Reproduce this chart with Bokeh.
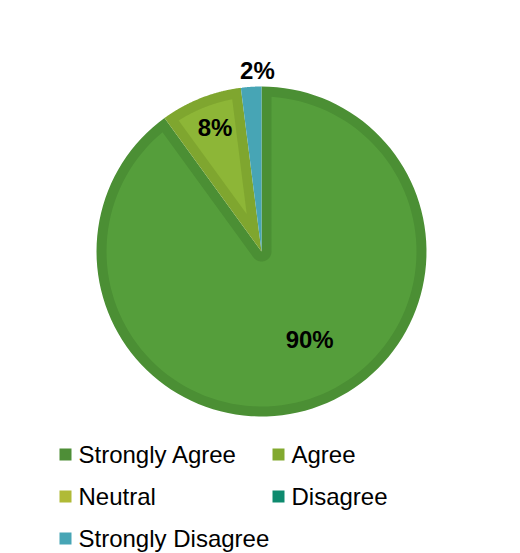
import math
from bokeh.plotting import figure
from bokeh.models import Range1d
from bokeh.core.properties import value
from bokeh.embed import file_html
from bokeh.resources import INLINE

# ---- data ----
categories = ["Strongly Agree", "Agree", "Neutral", "Disagree", "Strongly Disagree"]
percents = [90, 8, 0, 0, 2]
fill_colors = ["#559E3B", "#8DB637", "#B0BA36", "#0E8A6E", "#47A5B5"]
border_colors = ["#4B8F34", "#7FA62F", "#9EA82F", "#0C7A62", "#47A5B5"]
legend_colors = ["#4E8E37", "#82A92F", "#B0BA36", "#0E8A6E", "#47A5B5"]

W, H = 520, 553
CX, CY, R, D = 261, 251, 165, 10

p = figure(width=W, height=H, output_backend="svg", toolbar_location=None,
           x_range=Range1d(0, W), y_range=Range1d(H, 0), min_border=0,
           outline_line_color=None)
p.axis.visible = False
p.grid.visible = False
p.background_fill_color = "white"
p.border_fill_color = "white"


def u(phi_deg):
    a = math.radians(phi_deg)
    return math.sin(a), -math.cos(a)


def pt(phi, r, ox=CX, oy=CY):
    ux, uy = u(phi)
    return ox + r * ux, oy + r * uy


def arc(p1, p2, r, n=120, ox=CX, oy=CY):
    return [pt(p1 + (p2 - p1) * i / n, r, ox, oy) for i in range(n + 1)]


def outer_poly(p1, p2):
    return [(CX, CY)] + arc(p1, p2, R)


def inner_poly(p1, p2):
    theta = p2 - p1
    Ri = R - D
    da = math.degrees(math.asin(D / Ri))
    if theta <= 2 * da:
        return None
    if theta < 180:
        apex = pt(p1 + theta / 2, D / math.sin(math.radians(theta / 2)))
        return [apex] + arc(p1 + da, p2 - da, Ri)
    pts = [pt(p1 + 90, D)]
    pts += arc(p1 + da, p2 - da, Ri)
    pts += arc(p2 - 90, p1 + 90, D)
    return pts


total = sum(percents)
start = 0.0
slices = []
for cat, pc, fc, bc in zip(categories, percents, fill_colors, border_colors):
    span = 360.0 * pc / total
    slices.append((cat, pc, start, start + span, fc, bc))
    start += span

for cat, pc, a1, a2, fc, bc in slices:
    if pc <= 0:
        continue
    op = outer_poly(a1, a2)
    p.patch([q[0] for q in op], [q[1] for q in op], fill_color=bc, line_color=None)
    ip = inner_poly(a1, a2)
    if ip is not None:
        p.patch([q[0] for q in ip], [q[1] for q in ip], fill_color=fc, line_color=None)

# data labels (label anchor angle / radius fraction are layout choices)
label_pos = {"Strongly Agree": (151.4, 0.61), "Agree": (None, 0.80), "Strongly Disagree": (None, 1.10)}
lx, ly, lt = [], [], []
for cat, pc, a1, a2, fc, bc in slices:
    if pc <= 0:
        continue
    ang, rf = label_pos.get(cat, (None, 0.7))
    if ang is None:
        ang = (a1 + a2) / 2 + (2.3 if cat == "Strongly Disagree" else 1.0)
    x, y = pt(ang, R * rf)
    lx.append(x)
    ly.append(y)
    lt.append(f"{pc}%")
p.text(lx, ly, text=lt, text_font=value("Liberation Sans"), text_font_style="bold",
       text_font_size="24px", text_color="black", text_align="center", text_baseline="middle")

# legend (two columns)
col_x = [59, 272]
row_y0, row_dy = 454, 42
sx, sy, scol, tx, ty, tt = [], [], [], [], [], []
for i, (cat, col) in enumerate(zip(categories, legend_colors)):
    c, r_ = i % 2, i // 2
    x0 = col_x[c]
    y0 = row_y0 + r_ * row_dy
    sx.append(x0 + 6)
    sy.append(y0)
    scol.append(col)
    tx.append(x0 + 19)
    ty.append(y0)
    tt.append(cat)
p.rect(sx, sy, width=12, height=12, fill_color=scol, line_color=None)
p.text(tx, ty, text=tt, text_font=value("Liberation Sans"), text_font_size="24px",
       text_color="black", text_align="left", text_baseline="middle")

open("out.html", "w").write(file_html(p, INLINE))
